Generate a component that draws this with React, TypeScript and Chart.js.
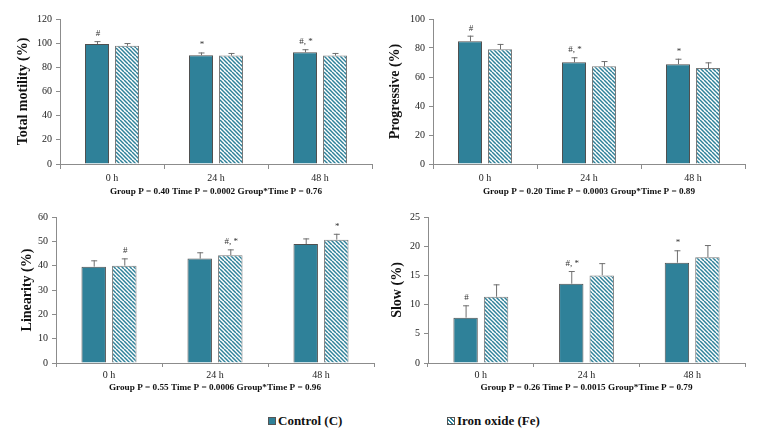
import React, { useEffect, useRef } from 'react';
import { Chart, registerables } from 'chart.js';
Chart.register(...registerables);

// ---------- data ----------
const categories = ['0 h', '24 h', '48 h'];
const seriesNames = ['Control (C)', 'Iron oxide (Fe)'];

const totalControl = [99.3, 90.0, 92.4];
const totalControlErr = [2.4, 2.3, 2.6];
const totalIron = [97.9, 89.7, 89.7];
const totalIronErr = [2.2, 2.2, 2.2];
const totalControlMarks = ['#', '*', '#, *'];
const totalIronMarks = ['', '', ''];

const progControl = [84.6, 70.1, 68.8];
const progControlErr = [3.9, 3.5, 3.8];
const progIron = [79.1, 67.4, 66.2];
const progIronErr = [3.7, 3.6, 3.9];
const progControlMarks = ['#', '#, *', '*'];
const progIronMarks = ['', '', ''];

const linControl = [39.6, 42.9, 48.9];
const linControlErr = [2.6, 2.6, 2.3];
const linIron = [40.0, 44.3, 50.7];
const linIronErr = [3.0, 2.4, 2.4];
const linControlMarks = ['', '', ''];
const linIronMarks = ['#', '#, *', '*'];

const slowControl = [7.76, 13.58, 17.17];
const slowControlErr = [2.12, 2.17, 2.13];
const slowIron = [11.35, 15.0, 18.1];
const slowIronErr = [2.12, 2.1, 2.1];
const slowControlMarks = ['#', '#, *', '*'];
const slowIronMarks = ['', '', ''];

const yTitles = ['Total motility (%)', 'Progressive (%)', 'Linearity (%)', 'Slow (%)'];
const xTitles = [
  'Group P = 0.40 Time P = 0.0002 Group*Time P = 0.76',
  'Group P = 0.20 Time P = 0.0003 Group*Time P = 0.89',
  'Group P = 0.55 Time P = 0.0006 Group*Time P = 0.96',
  'Group P = 0.26 Time P = 0.0015 Group*Time P = 0.79',
];
const yMax = [120, 100, 60, 25];
const yStep = [20, 10, 10, 5];

// ---------- style ----------
const TEAL = '#2F8199';
const SERIF = "'Liberation Serif', 'Times New Roman', serif";

function makeHatch(): CanvasPattern | string {
  const c = document.createElement('canvas');
  c.width = 8;
  c.height = 8;
  const g = c.getContext('2d');
  if (!g) return TEAL;
  g.fillStyle = '#ffffff';
  g.fillRect(0, 0, 8, 8);
  g.strokeStyle = TEAL;
  g.lineWidth = 1.5;
  for (let k = -3; k <= 3; k++) {
    g.beginPath();
    g.moveTo(k * 4, 0);
    g.lineTo(k * 4 + 8, 8);
    g.stroke();
  }
  const p = g.createPattern(c, 'repeat');
  return p || TEAL;
}

const errorPlugin = {
  id: 'errAndMarks',
  afterDatasetsDraw(chart: any) {
    const ctx = chart.ctx;
    const yScale = chart.scales.y;
    ctx.save();
    chart.data.datasets.forEach((ds: any, di: number) => {
      const meta = chart.getDatasetMeta(di);
      meta.data.forEach((bar: any, i: number) => {
        const v = ds.data[i];
        const e = ds.errors[i];
        const yTop = yScale.getPixelForValue(v + e);
        const x = bar.x;
        ctx.strokeStyle = '#6f6f6f';
        ctx.lineWidth = 1;
        ctx.beginPath();
        ctx.moveTo(x + 0.5, bar.y);
        ctx.lineTo(x + 0.5, yTop);
        ctx.moveTo(x - 2.5, yTop + 0.5);
        ctx.lineTo(x + 3.5, yTop + 0.5);
        ctx.stroke();
        const m = ds.marks[i];
        if (m) {
          ctx.fillStyle = '#333';
          ctx.font = `9px ${SERIF}`;
          ctx.textAlign = 'center';
          ctx.textBaseline = 'alphabetic';
          ctx.fillText(m, x + 1, yTop - 5);
        }
      });
    });
    ctx.restore();
  },
};

type PanelCfg = {
  idx: number;
  control: number[];
  controlErr: number[];
  controlMarks: string[];
  iron: number[];
  ironErr: number[];
  ironMarks: string[];
  left: number;
  top: number;
  width: number;
  height: number;
  yWidth: number;
  padTop: number;
  padRight: number;
  xHeight: number;
  yTitlePad: number;
  xTitlePadBottom: number;
  xTickLen: number;
  xTickPad: number;
};

const panels: PanelCfg[] = [
  {
    idx: 0, control: totalControl, controlErr: totalControlErr, controlMarks: totalControlMarks,
    iron: totalIron, ironErr: totalIronErr, ironMarks: totalIronMarks,
    left: 0, top: 0, width: 380, height: 205, yWidth: 60, padTop: 19, padRight: 8, xHeight: 41,
    yTitlePad: 14.5, xTitlePadBottom: 7.5, xTickLen: 5, xTickPad: 3,
  },
  {
    idx: 1, control: progControl, controlErr: progControlErr, controlMarks: progControlMarks,
    iron: progIron, ironErr: progIronErr, ironMarks: progIronMarks,
    left: 380, top: 0, width: 379, height: 205, yWidth: 53, padTop: 19, padRight: 14, xHeight: 41,
    yTitlePad: 6.5, xTitlePadBottom: 7.5, xTickLen: 5, xTickPad: 3,
  },
  {
    idx: 2, control: linControl, controlErr: linControlErr, controlMarks: linControlMarks,
    iron: linIron, ironErr: linIronErr, ironMarks: linIronMarks,
    left: 0, top: 205, width: 380, height: 195, yWidth: 56, padTop: 12, padRight: 6, xHeight: 37,
    yTitlePad: 18.5, xTitlePadBottom: 6.5, xTickLen: 4, xTickPad: 2,
  },
  {
    idx: 3, control: slowControl, controlErr: slowControlErr, controlMarks: slowControlMarks,
    iron: slowIron, ironErr: slowIronErr, ironMarks: slowIronMarks,
    left: 380, top: 205, width: 379, height: 195, yWidth: 48, padTop: 12, padRight: 14, xHeight: 37,
    yTitlePad: 8.5, xTitlePadBottom: 6.5, xTickLen: 4, xTickPad: 2,
  },
];

function Panel({ cfg }: { cfg: PanelCfg }) {
  const ref = useRef<HTMLCanvasElement | null>(null);
  useEffect(() => {
    if (!ref.current) return;
    const hatch = makeHatch();
    const chart = new Chart(ref.current, {
      type: 'bar',
      data: {
        labels: categories,
        datasets: [
          {
            label: seriesNames[0],
            data: cfg.control,
            backgroundColor: TEAL,
            borderColor: '#505050',
            borderWidth: 1,
            barPercentage: 0.8,
            categoryPercentage: 0.577,
            errors: cfg.controlErr,
            marks: cfg.controlMarks,
          } as any,
          {
            label: seriesNames[1],
            data: cfg.iron,
            backgroundColor: hatch,
            borderColor: '#7a7a7a',
            borderWidth: 1,
            barPercentage: 0.8,
            categoryPercentage: 0.577,
            errors: cfg.ironErr,
            marks: cfg.ironMarks,
          } as any,
        ],
      },
      options: {
        responsive: false,
        animation: false,
        devicePixelRatio: 1,
        layout: { padding: { top: cfg.padTop, right: cfg.padRight, left: 0, bottom: 0 } },
        plugins: { legend: { display: false }, tooltip: { enabled: false } },
        scales: {
          x: {
            offset: true,
            grid: { display: true, offset: true, drawOnChartArea: false, drawTicks: true, tickLength: cfg.xTickLen, color: '#8c8c8c' },
            border: { display: true, color: '#8c8c8c' },
            ticks: { color: '#222', font: { family: SERIF, size: 10 }, padding: cfg.xTickPad, maxRotation: 0 },
            title: {
              display: true,
              text: xTitles[cfg.idx],
              color: '#111',
              font: { family: SERIF, size: 9.2, weight: 'bold' },
              padding: { top: 0, bottom: cfg.xTitlePadBottom },
            },
            afterFit: (s: any) => { s.height = cfg.xHeight; },
          } as any,
          y: {
            min: 0,
            max: yMax[cfg.idx],
            ticks: { stepSize: yStep[cfg.idx], color: '#222', font: { family: SERIF, size: 10 }, padding: 4 },
            grid: { display: true, drawOnChartArea: false, drawTicks: true, tickLength: 4, color: '#8c8c8c' },
            border: { display: true, color: '#8c8c8c' },
            title: {
              display: true,
              text: yTitles[cfg.idx],
              color: '#111',
              font: { family: SERIF, size: 14, weight: 'bold' },
              padding: { top: cfg.yTitlePad, bottom: 0 },
            },
            afterFit: (s: any) => { s.width = cfg.yWidth; },
          } as any,
        },
      },
      plugins: [errorPlugin],
    });
    return () => chart.destroy();
  }, [cfg]);
  return (
    <canvas
      ref={ref}
      width={cfg.width}
      height={cfg.height}
      style={{ position: 'absolute', left: cfg.left, top: cfg.top, width: cfg.width, height: cfg.height }}
    />
  );
}

export default function App() {
  const legendText: React.CSSProperties = {
    position: 'absolute',
    top: 413,
    fontFamily: SERIF,
    fontWeight: 'bold',
    fontSize: 13,
    lineHeight: '16px',
    color: '#111',
    whiteSpace: 'nowrap',
  };
  const sq: React.CSSProperties = {
    position: 'absolute',
    top: 417,
    width: 8,
    height: 8,
    boxSizing: 'border-box',
    border: '1px solid #555',
  };
  return (
    <div style={{ position: 'fixed', left: 0, top: 0, width: 759, height: 439, background: '#fff', overflow: 'hidden' }}>
      {panels.map((p) => (
        <Panel key={p.idx} cfg={p} />
      ))}
      <div style={{ ...sq, left: 268, background: TEAL }} />
      <div style={{ ...legendText, left: 278 }}>{seriesNames[0]}</div>
      <div
        style={{
          ...sq,
          left: 447,
          background: `repeating-linear-gradient(45deg, ${TEAL} 0px, ${TEAL} 1.2px, #fff 1.2px, #fff 2.6px)`,
        }}
      />
      <div style={{ ...legendText, left: 457 }}>{seriesNames[1]}</div>
    </div>
  );
}
